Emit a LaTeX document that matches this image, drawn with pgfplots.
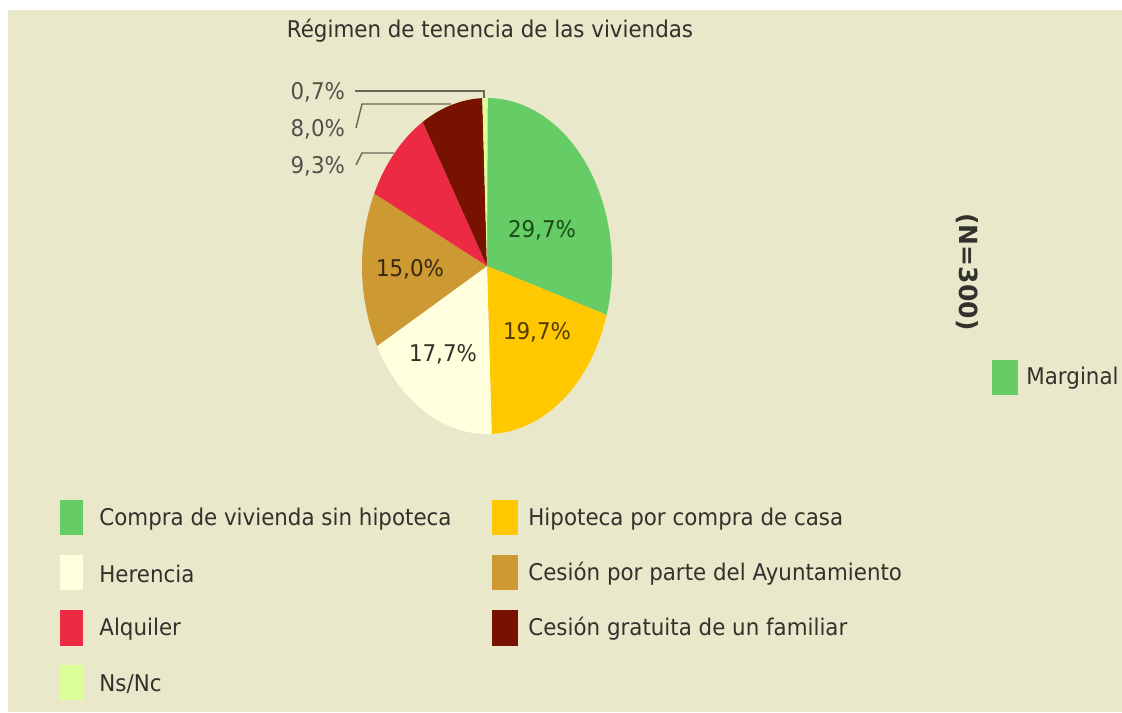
\documentclass[border=0pt]{standalone}
\usepackage{pgfplots}
\usepackage{pgfplotstable}
\usepackage{fontspec}
\pgfplotsset{compat=1.18}
\setmainfont{DejaVu Sans}

\definecolor{bgbeige}{RGB}{233,232,202}
\definecolor{txt}{RGB}{50,50,45}
\definecolor{leader}{RGB}{105,105,90}
\definecolor{cCompra}{RGB}{102,204,102}
\definecolor{cHipoteca}{RGB}{255,200,0}
\definecolor{cHerencia}{RGB}{255,255,221}
\definecolor{cAyto}{RGB}{204,153,51}
\definecolor{cAlquiler}{RGB}{236,42,68}
\definecolor{cFamiliar}{RGB}{119,17,0}
\definecolor{cNsNc}{RGB}{221,255,153}

% shares of the pie, clockwise from 12 o'clock
\pgfplotstableread{
value color
29.7 cCompra
19.7 cHipoteca
17.7 cHerencia
15.0 cAyto
9.3 cAlquiler
8.0 cFamiliar
0.7 cNsNc
}\pietable

% build the sectors (centre 487,266 px; radii 125 x 168 px at 0.5pt/px)
\def\piesectors{}
\xdef\pieangle{90}
\pgfplotstableforeachcolumnelement{value}\of\pietable\as\v{%
  \pgfplotstablegetelem{\pgfplotstablerow}{color}\of\pietable
  \let\sectcol\pgfplotsretval
  \pgfmathsetmacro\endang{\pieangle-3.6*\v}%
  \xdef\piesectors{\piesectors
    \noexpand\fill[\sectcol] (axis cs:487,266) -- ++(\pieangle:62.5pt and 84pt)
      arc[start angle=\pieangle, end angle=\endang, x radius=62.5pt, y radius=84pt] -- cycle;}%
  \xdef\pieangle{\endang}%
}

\newcommand\T[1]{\scalebox{0.93}[1]{#1}}

\begin{document}
\begin{tikzpicture}[font=\fontsize{11.5}{13}\selectfont, text=txt]
\begin{axis}[
  x=0.5pt, y=0.5pt, y dir=reverse,
  xmin=0, xmax=1122, ymin=0, ymax=712,
  hide axis, clip=false]
  % background
  \fill[bgbeige] (axis cs:0,0) rectangle (axis cs:1122,712);
  \fill[white] (axis cs:0,0) rectangle (axis cs:1122,10);
  \fill[white] (axis cs:0,0) rectangle (axis cs:8,712);

  \node at (axis cs:490,31) {\T{Régimen de tenencia de las viviendas}};

  \piesectors

  % labels inside
  \node[text={rgb,255:red,25;green,75;blue,25}] at (axis cs:542,230) {\T{29,7\%}};
  \node[text={rgb,255:red,80;green,60;blue,0}] at (axis cs:537,332) {\T{19,7\%}};
  \node at (axis cs:443,354) {\T{17,7\%}};
  \node[text={rgb,255:red,55;green,40;blue,15}] at (axis cs:410,269) {\T{15,0\%}};

  % outer labels with leader lines
  \draw[leader, line width=0.7pt] (axis cs:355,91) -- (axis cs:484,91) -- (axis cs:484,98);
  \draw[leader, line width=0.7pt] (axis cs:356,128) -- (axis cs:362,104) -- (axis cs:451,104);
  \draw[leader, line width=0.7pt] (axis cs:356,165) -- (axis cs:362,153) -- (axis cs:394,153);
  \node[anchor=east, text=txt!85] at (axis cs:352,92) {\T{0,7\%}};
  \node[anchor=east, text=txt!85] at (axis cs:352,129) {\T{8,0\%}};
  \node[anchor=east, text=txt!85] at (axis cs:352,166) {\T{9,3\%}};

  % N label and series legend
  \node[rotate=-90, font=\fontsize{12.5}{14}\selectfont\bfseries] at (axis cs:967,272) {(N=300)};
  \fill[cCompra] (axis cs:992,360) rectangle (axis cs:1018,395);
  \node[anchor=west, inner sep=0pt] at (axis cs:1026,378) {\T{Marginal}};

  % category legend
  \fill[cCompra] (axis cs:60,500) rectangle (axis cs:83,535);
  \node[anchor=west, inner sep=0pt] at (axis cs:99,519) {\T{Compra de vivienda sin hipoteca}};
  \fill[cHerencia] (axis cs:60,555) rectangle (axis cs:83,590);
  \node[anchor=west, inner sep=0pt] at (axis cs:99,574) {\T{Herencia}};
  \fill[cAlquiler] (axis cs:60,610) rectangle (axis cs:83,646);
  \node[anchor=west, inner sep=0pt] at (axis cs:99,629) {\T{Alquiler}};
  \fill[cNsNc] (axis cs:60,665) rectangle (axis cs:83,700);
  \node[anchor=west, inner sep=0pt] at (axis cs:99,684) {\T{Ns/Nc}};

  \fill[cHipoteca] (axis cs:492,500) rectangle (axis cs:518,535);
  \node[anchor=west, inner sep=0pt] at (axis cs:528,519) {\T{Hipoteca por compra de casa}};
  \fill[cAyto] (axis cs:492,555) rectangle (axis cs:518,590);
  \node[anchor=west, inner sep=0pt] at (axis cs:528,574) {\T{Cesión por parte del Ayuntamiento}};
  \fill[cFamiliar] (axis cs:492,610) rectangle (axis cs:518,646);
  \node[anchor=west, inner sep=0pt] at (axis cs:528,629) {\T{Cesión gratuita de un familiar}};
\end{axis}
\pgfresetboundingbox
\path (current axis.south west) rectangle (current axis.north east);
\end{tikzpicture}
\end{document}
